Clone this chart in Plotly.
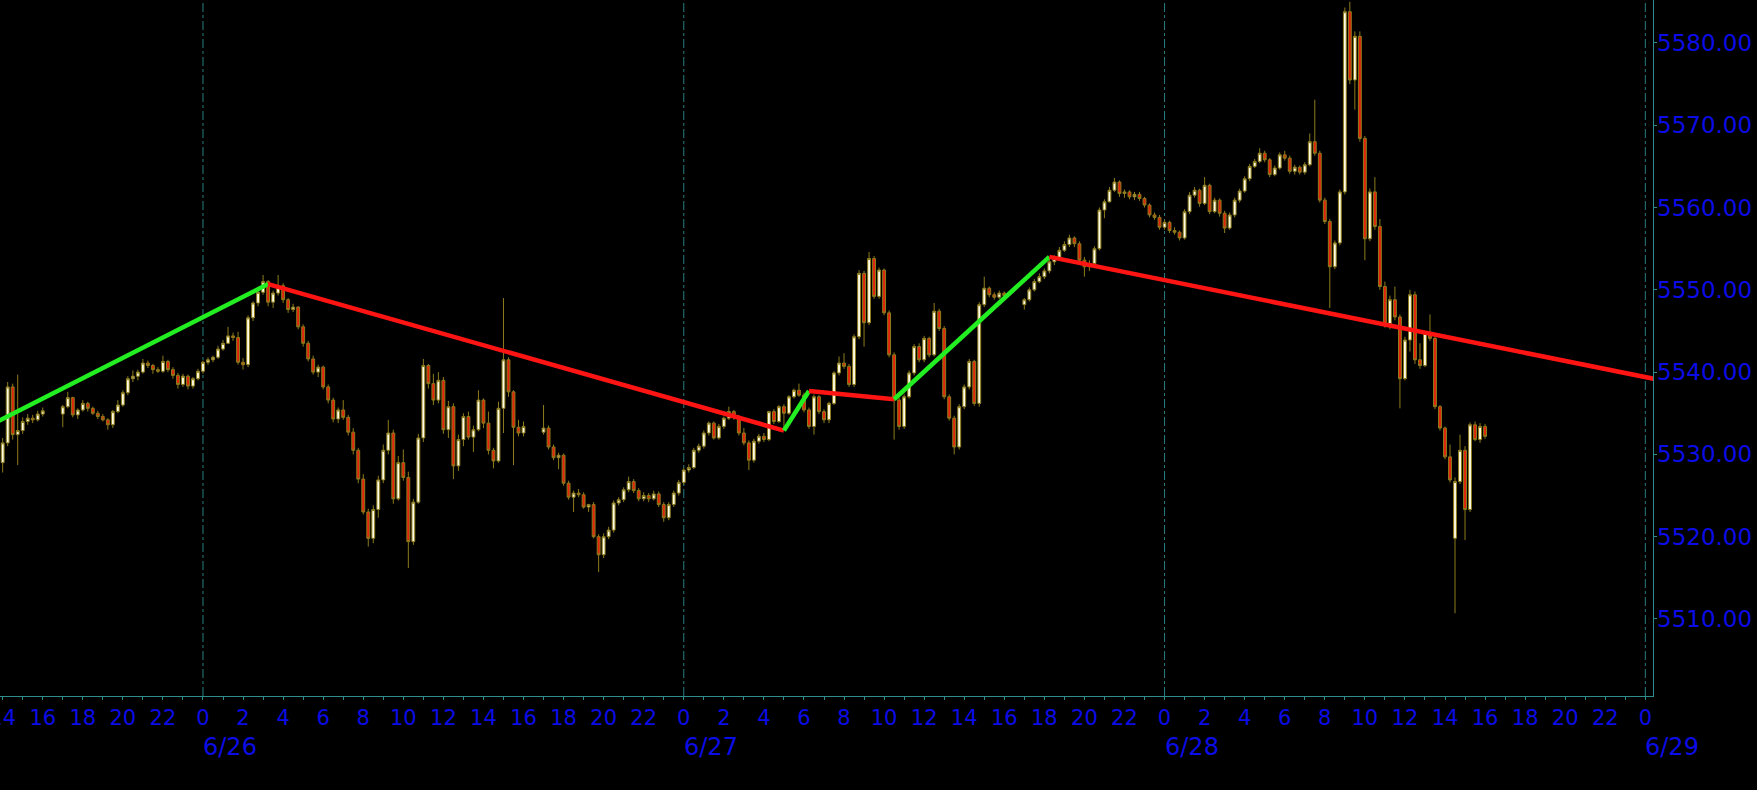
import pandas as pd
import plotly.graph_objects as go

# ---------------- data ----------------
session_start = ["2024-06-25 14:00", "2024-06-25 17:00", "2024-06-26 17:00", "2024-06-27 17:00"]
session_bars = [9, 93, 93, 93]

bar_open = [
    # 6/25 14:00-16:00
    5529.0, 5531.4, 5538.2, 5532.4, 5532.9, 5534.0, 5534.4, 5534.2, 5534.9,
    # 6/25 17:00 - 6/26 16:00
    5534.9, 5535.8, 5536.9, 5534.8,
    5535.4, 5536.2, 5535.6, 5535.0,
    5534.6, 5534.2, 5533.6, 5535.2,
    5536.0, 5537.5, 5539.2, 5539.5,
    5540.0, 5541.1, 5540.8, 5540.3,
    5540.1, 5541.3, 5540.3, 5539.6,
    5538.5, 5539.5, 5538.3, 5539.2,
    5540.1, 5541.2, 5541.5, 5541.8,
    5542.8, 5543.5, 5544.4, 5544.2,
    5541.2, 5540.9, 5546.6, 5548.4,
    5549.7, 5551.0, 5548.5, 5549.6,
    5550.5, 5548.8, 5547.6, 5547.9,
    5545.5, 5543.5, 5541.6, 5540.0,
    5540.6, 5538.2, 5536.6, 5534.3,
    5535.4, 5534.5, 5532.7, 5530.5,
    5527.0, 5523.0, 5519.8, 5523.3,
    5526.9, 5530.5, 5532.6, 5524.6,
    5529.0, 5527.2, 5519.4, 5524.2,
    5532.0, 5540.8, 5538.6, 5536.6,
    5539.0, 5533.0, 5535.8, 5528.6,
    5531.8, 5534.6, 5532.1, 5533.0,
    5536.6, 5533.8, 5530.5, 5529.2,
    5535.6, 5541.5, 5537.6, 5533.3,
    5532.6,
    # 6/26 17:00 - 6/27 16:00
    5532.7, 5533.2, 5530.9, 5529.6,
    5529.9, 5526.5, 5524.8, 5525.3,
    5525.1, 5523.6, 5523.9, 5520.0,
    5517.8, 5520.0, 5520.8, 5524.1,
    5524.5, 5525.7, 5526.7, 5525.6,
    5524.6, 5525.0, 5524.6, 5525.2,
    5523.9, 5522.3, 5523.9, 5525.3,
    5526.6, 5528.1, 5528.4, 5530.5,
    5531.0, 5532.6, 5533.8, 5532.0,
    5533.4, 5534.4, 5535.2, 5534.5,
    5532.6, 5531.4, 5529.3, 5531.6,
    5532.2, 5531.8, 5535.2, 5534.0,
    5535.8, 5535.0, 5537.0, 5537.8,
    5537.2, 5535.4, 5533.4, 5537.0,
    5535.2, 5534.2, 5536.2, 5539.9,
    5541.1, 5540.7, 5538.5, 5544.3,
    5552.0, 5546.0, 5553.8, 5549.2,
    5552.4, 5547.2, 5542.1, 5536.6,
    5533.4, 5537.0, 5539.9, 5543.1,
    5541.5, 5544.1, 5542.1, 5547.4,
    5545.3, 5537.0, 5534.4, 5530.9,
    5535.8, 5538.2, 5541.3, 5536.2,
    5548.2, 5550.2, 5549.4, 5549.1,
    5549.6,
    # 6/27 17:00 - 6/28 16:00
    5548.2, 5548.8, 5550.0, 5551.0,
    5551.6, 5552.3, 5553.4, 5553.8,
    5554.8, 5555.5, 5556.3, 5555.6,
    5553.6, 5552.8, 5553.2, 5555.0,
    5559.7, 5560.7, 5562.1, 5563.1,
    5561.7, 5561.9, 5561.3, 5561.6,
    5561.1, 5560.3, 5559.1, 5558.8,
    5557.6, 5558.2, 5557.2, 5557.0,
    5556.3, 5559.5, 5561.5, 5562.1,
    5560.5, 5562.7, 5559.5, 5560.9,
    5559.3, 5557.5, 5559.1, 5560.9,
    5562.0, 5563.5, 5565.0, 5565.6,
    5566.6, 5565.8, 5564.0, 5564.8,
    5566.4, 5566.0, 5564.4, 5564.9,
    5564.3, 5565.2, 5568.0, 5566.6,
    5560.9, 5558.3, 5552.8, 5555.7,
    5561.9, 5583.8, 5575.5, 5580.8,
    5568.4, 5556.2, 5561.9, 5557.7,
    5550.4, 5545.9, 5548.8, 5546.7,
    5539.2, 5543.9, 5549.4, 5541.5,
    5540.8, 5544.7, 5544.1, 5535.8,
    5533.2, 5529.7, 5519.8, 5526.7,
    5530.5, 5523.3, 5533.6, 5531.8,
    5533.4,
]

bar_high = [
    5532.0, 5538.8, 5538.6, 5539.7, 5534.5, 5534.9, 5534.8, 5535.3, 5535.7,
    5536.0, 5537.6, 5537.0, 5535.6,
    5536.6, 5536.4, 5535.8, 5535.3,
    5534.9, 5534.4, 5535.4, 5536.6,
    5537.8, 5539.5, 5540.2, 5540.3,
    5541.6, 5541.4, 5541.0, 5540.6,
    5542.0, 5541.5, 5540.6, 5539.9,
    5539.8, 5539.7, 5539.4, 5540.4,
    5541.4, 5541.8, 5542.0, 5543.2,
    5543.9, 5545.5, 5544.8, 5544.9,
    5541.7, 5546.9, 5548.6, 5550.0,
    5551.8, 5551.2, 5549.9, 5551.8,
    5550.8, 5549.0, 5548.3, 5548.0,
    5545.8, 5543.8, 5542.0, 5540.9,
    5540.8, 5538.5, 5536.9, 5535.7,
    5536.6, 5534.8, 5533.2, 5530.8,
    5527.6, 5523.4, 5523.8, 5527.4,
    5531.2, 5534.2, 5533.0, 5529.8,
    5530.6, 5527.9, 5524.6, 5532.5,
    5541.6, 5541.0, 5539.8, 5540.0,
    5539.4, 5536.5, 5536.2, 5532.4,
    5535.0, 5535.2, 5533.5, 5537.8,
    5536.8, 5535.2, 5530.8, 5536.4,
    5549.0, 5541.8, 5537.8, 5534.2,
    5534.0,
    5536.0, 5533.5, 5531.2, 5530.2,
    5530.1, 5526.8, 5525.6, 5525.8,
    5525.4, 5524.0, 5524.2, 5520.3,
    5520.4, 5521.2, 5524.4, 5524.8,
    5526.0, 5527.3, 5527.0, 5525.9,
    5525.4, 5525.3, 5525.6, 5525.5,
    5524.2, 5524.2, 5525.6, 5526.9,
    5528.4, 5528.8, 5530.8, 5531.3,
    5532.9, 5534.0, 5534.0, 5533.7,
    5534.6, 5535.8, 5535.4, 5534.8,
    5533.2, 5531.7, 5531.9, 5532.5,
    5532.6, 5535.3, 5535.5, 5536.0,
    5536.1, 5537.2, 5538.0, 5538.6,
    5537.5, 5535.7, 5537.3, 5537.2,
    5535.5, 5536.4, 5540.1, 5541.9,
    5542.3, 5541.0, 5544.6, 5552.4,
    5552.3, 5554.6, 5554.1, 5552.7,
    5552.6, 5547.5, 5542.4, 5536.9,
    5537.3, 5540.2, 5543.4, 5543.5,
    5544.4, 5544.3, 5548.4, 5547.7,
    5545.6, 5537.3, 5534.7, 5536.1,
    5538.5, 5541.6, 5541.5, 5548.5,
    5551.6, 5550.4, 5549.7, 5549.9,
    5549.8,
    5549.0, 5550.3, 5551.3, 5552.0,
    5552.6, 5553.8, 5554.2, 5555.2,
    5555.9, 5556.7, 5556.5, 5555.9,
    5554.0, 5553.6, 5555.3, 5560.0,
    5561.0, 5562.5, 5563.6, 5563.3,
    5562.2, 5562.1, 5561.9, 5561.9,
    5561.3, 5560.5, 5559.4, 5559.1,
    5558.5, 5558.4, 5557.6, 5557.2,
    5559.8, 5561.9, 5562.5, 5562.3,
    5563.7, 5562.9, 5561.2, 5561.1,
    5559.6, 5559.4, 5561.2, 5562.3,
    5563.8, 5565.3, 5565.9, 5567.2,
    5566.9, 5566.0, 5565.1, 5566.7,
    5566.9, 5566.3, 5565.2, 5565.1,
    5565.5, 5569.0, 5573.1, 5566.9,
    5561.2, 5558.6, 5556.0, 5562.2,
    5584.3, 5585.0, 5581.4, 5581.4,
    5568.7, 5562.3, 5563.7, 5558.6,
    5551.0, 5549.3, 5550.4, 5547.0,
    5544.3, 5550.0, 5549.8, 5543.5,
    5545.0, 5547.0, 5544.4, 5536.0,
    5533.4, 5531.2, 5527.2, 5532.4,
    5531.0, 5533.9, 5534.0, 5533.8,
    5533.7,
]

bar_low = [
    5527.8, 5531.0, 5531.8, 5528.7, 5532.5, 5533.6, 5533.8, 5534.0, 5534.6,
    5533.3, 5535.6, 5534.5, 5534.3,
    5535.2, 5535.2, 5534.8, 5534.3,
    5534.0, 5533.0, 5533.2, 5535.0,
    5535.8, 5537.2, 5538.8, 5539.0,
    5539.8, 5540.5, 5539.8, 5539.9,
    5539.9, 5540.0, 5539.2, 5538.0,
    5538.2, 5537.9, 5538.0, 5539.0,
    5539.8, 5540.9, 5541.2, 5541.6,
    5542.6, 5543.4, 5543.8, 5540.9,
    5540.3, 5540.6, 5546.2, 5548.0,
    5549.4, 5548.0, 5547.8, 5549.3,
    5548.4, 5547.2, 5547.3, 5545.2,
    5543.1, 5541.3, 5539.7, 5539.4,
    5537.9, 5536.2, 5533.9, 5533.8,
    5534.2, 5532.3, 5530.0, 5526.5,
    5522.7, 5518.8, 5519.2, 5522.3,
    5526.5, 5530.0, 5524.0, 5524.4,
    5526.8, 5516.2, 5519.0, 5524.0,
    5531.5, 5538.0, 5536.0, 5536.2,
    5532.5, 5532.0, 5527.0, 5528.0,
    5531.0, 5531.8, 5530.3, 5532.8,
    5533.2, 5530.0, 5528.3, 5529.0,
    5532.6, 5537.0, 5528.7, 5532.2,
    5532.2,
    5532.4, 5530.6, 5529.3, 5528.2,
    5526.2, 5524.5, 5523.0, 5524.8,
    5523.4, 5523.0, 5519.8, 5515.7,
    5517.4, 5519.7, 5520.5, 5523.8,
    5524.2, 5525.4, 5525.3, 5524.3,
    5524.3, 5524.2, 5524.4, 5523.6,
    5521.8, 5522.0, 5523.6, 5525.0,
    5526.3, 5527.8, 5528.2, 5530.2,
    5530.7, 5532.3, 5531.8, 5531.8,
    5533.1, 5534.2, 5534.2, 5532.3,
    5531.1, 5528.1, 5529.0, 5531.3,
    5531.5, 5531.6, 5533.7, 5533.8,
    5532.9, 5534.8, 5536.8, 5537.0,
    5535.1, 5533.1, 5532.4, 5534.9,
    5533.8, 5533.8, 5536.0, 5539.6,
    5540.4, 5538.2, 5538.2, 5544.0,
    5543.1, 5545.7, 5548.9, 5548.9,
    5546.9, 5541.8, 5531.8, 5533.0,
    5533.1, 5536.8, 5539.6, 5541.2,
    5541.2, 5541.8, 5541.9, 5545.0,
    5536.7, 5534.1, 5530.0, 5530.6,
    5535.5, 5537.9, 5535.9, 5535.8,
    5547.9, 5549.1, 5548.8, 5548.9,
    5549.0,
    5547.6, 5548.6, 5549.8, 5550.8,
    5551.3, 5552.0, 5553.0, 5553.6,
    5554.6, 5555.2, 5555.2, 5553.2,
    5551.6, 5552.3, 5552.8, 5554.8,
    5558.7, 5560.6, 5561.9, 5561.3,
    5561.2, 5561.0, 5560.9, 5560.8,
    5560.0, 5558.8, 5558.5, 5557.3,
    5557.3, 5556.9, 5556.7, 5556.0,
    5556.1, 5559.2, 5561.2, 5560.1,
    5560.3, 5559.2, 5559.3, 5558.9,
    5556.9, 5557.3, 5558.8, 5560.6,
    5561.8, 5563.2, 5564.8, 5565.4,
    5565.5, 5563.7, 5563.8, 5564.6,
    5565.7, 5564.1, 5564.0, 5564.0,
    5564.0, 5565.0, 5566.3, 5560.6,
    5558.0, 5547.8, 5552.5, 5555.4,
    5561.6, 5575.0, 5571.9, 5568.0,
    5553.6, 5555.9, 5557.3, 5550.0,
    5545.4, 5545.2, 5546.3, 5535.6,
    5539.0, 5542.5, 5541.0, 5540.4,
    5540.6, 5543.8, 5535.5, 5532.9,
    5529.4, 5526.6, 5510.7, 5526.4,
    5519.6, 5523.0, 5531.6, 5531.4,
    5531.9,
]

bar_close = [
    5531.4, 5538.2, 5532.4, 5532.9, 5534.0, 5534.4, 5534.2, 5534.9, 5535.3,
    5535.8, 5536.9, 5534.8, 5535.4,
    5536.2, 5535.6, 5535.0, 5534.6,
    5534.2, 5533.6, 5535.2, 5536.0,
    5537.5, 5539.2, 5539.5, 5540.0,
    5541.1, 5540.8, 5540.3, 5540.1,
    5541.3, 5540.3, 5539.6, 5538.5,
    5539.5, 5538.3, 5539.2, 5540.1,
    5541.2, 5541.5, 5541.8, 5542.8,
    5543.5, 5544.4, 5544.2, 5541.2,
    5540.9, 5546.6, 5548.4, 5549.7,
    5551.0, 5548.5, 5549.6, 5550.5,
    5548.8, 5547.6, 5547.9, 5545.5,
    5543.5, 5541.6, 5540.0, 5540.6,
    5538.2, 5536.6, 5534.3, 5535.4,
    5534.5, 5532.7, 5530.5, 5527.0,
    5523.0, 5519.8, 5523.3, 5526.9,
    5530.5, 5532.6, 5524.6, 5529.0,
    5527.2, 5519.4, 5524.2, 5532.0,
    5540.8, 5538.6, 5536.6, 5539.0,
    5533.0, 5535.8, 5528.6, 5531.8,
    5534.6, 5532.1, 5533.0, 5536.6,
    5533.8, 5530.5, 5529.2, 5535.6,
    5541.5, 5537.6, 5533.3, 5532.6,
    5533.4,
    5533.2, 5530.9, 5529.6, 5529.9,
    5526.5, 5524.8, 5525.3, 5525.1,
    5523.6, 5523.9, 5520.0, 5517.8,
    5520.0, 5520.8, 5524.1, 5524.5,
    5525.7, 5526.7, 5525.6, 5524.6,
    5525.0, 5524.6, 5525.2, 5523.9,
    5522.3, 5523.9, 5525.3, 5526.6,
    5528.1, 5528.4, 5530.5, 5531.0,
    5532.6, 5533.8, 5532.0, 5533.4,
    5534.4, 5535.2, 5534.5, 5532.6,
    5531.4, 5529.3, 5531.6, 5532.2,
    5531.8, 5535.2, 5534.0, 5535.8,
    5535.0, 5537.0, 5537.8, 5537.2,
    5535.4, 5533.4, 5537.0, 5535.2,
    5534.2, 5536.2, 5539.9, 5541.1,
    5540.7, 5538.5, 5544.3, 5552.0,
    5546.0, 5553.8, 5549.2, 5552.4,
    5547.2, 5542.1, 5536.6, 5533.4,
    5537.0, 5539.9, 5543.1, 5541.5,
    5544.1, 5542.1, 5547.4, 5545.3,
    5537.0, 5534.4, 5530.9, 5535.8,
    5538.2, 5541.3, 5536.2, 5548.2,
    5550.2, 5549.4, 5549.1, 5549.6,
    5549.3,
    5548.8, 5550.0, 5551.0, 5551.6,
    5552.3, 5553.4, 5553.8, 5554.8,
    5555.5, 5556.3, 5555.6, 5553.6,
    5552.8, 5553.2, 5555.0, 5559.7,
    5560.7, 5562.1, 5563.1, 5561.7,
    5561.9, 5561.3, 5561.6, 5561.1,
    5560.3, 5559.1, 5558.8, 5557.6,
    5558.2, 5557.2, 5557.0, 5556.3,
    5559.5, 5561.5, 5562.1, 5560.5,
    5562.7, 5559.5, 5560.9, 5559.3,
    5557.5, 5559.1, 5560.9, 5562.0,
    5563.5, 5565.0, 5565.6, 5566.6,
    5565.8, 5564.0, 5564.8, 5566.4,
    5566.0, 5564.4, 5564.9, 5564.3,
    5565.2, 5568.0, 5566.6, 5560.9,
    5558.3, 5552.8, 5555.7, 5561.9,
    5583.8, 5575.5, 5580.8, 5568.4,
    5556.2, 5561.9, 5557.7, 5550.4,
    5545.9, 5548.8, 5546.7, 5539.2,
    5543.9, 5549.4, 5541.5, 5540.8,
    5544.7, 5544.1, 5535.8, 5533.2,
    5529.7, 5526.9, 5526.7, 5530.5,
    5523.3, 5533.6, 5531.8, 5533.4,
    5532.2,
]

# zigzag swing points
zz_time = ["2024-06-25 13:45", "2024-06-26 03:15", "2024-06-27 05:00", "2024-06-27 06:15",
           "2024-06-27 10:30", "2024-06-27 18:15", "2024-06-29 01:00"]
zz_value = [5534.0, 5550.7, 5532.9, 5537.7, 5536.7, 5554.0, 5538.9]

day_marks = ["2024-06-26", "2024-06-27", "2024-06-28", "2024-06-29"]
day_labels = ["6/26", "6/27", "6/28", "6/29"]
price_ticks = [5510, 5520, 5530, 5540, 5550, 5560, 5570, 5580]

# ---------------- styles ----------------
BG = "#000000"
AXIS = "#2f8c8c"
GRID = "#2a7f7f"
TXT = "#0c0ce6"
UP_FILL = "#fffbe4"
DN_FILL = "#e4230c"
EDGE = "#8c7c1c"
ZZ_UP = "#22ee22"
ZZ_DN = "#ff1414"
FONT = "DejaVu Sans"

times = []
for s, cnt in zip(session_start, session_bars):
    times += list(pd.date_range(s, periods=cnt, freq="15min"))
n = min(len(times), len(bar_open), len(bar_high), len(bar_low), len(bar_close))

fig = go.Figure()
fig.add_trace(go.Candlestick(
    x=times[:n], open=bar_open[:n], high=bar_high[:n], low=bar_low[:n], close=bar_close[:n],
    increasing=dict(line=dict(color=EDGE, width=1), fillcolor=UP_FILL),
    decreasing=dict(line=dict(color=EDGE, width=1), fillcolor=DN_FILL),
    whiskerwidth=0, showlegend=False, hoverinfo="skip",
))

for i in range(len(zz_time) - 1):
    col = ZZ_UP if zz_value[i + 1] > zz_value[i] else ZZ_DN
    fig.add_trace(go.Scatter(
        x=[zz_time[i], zz_time[i + 1]], y=[zz_value[i], zz_value[i + 1]],
        mode="lines", line=dict(color=col, width=4.5), showlegend=False, hoverinfo="skip",
    ))

# hour ticks (marks every hour, labels every 2 hours)
hours = pd.date_range("2024-06-25 14:00", "2024-06-29 00:00", freq="1h")
tick_text = [str(h.hour) if h.hour % 2 == 0 else "" for h in hours]

for d in day_marks:
    fig.add_shape(type="line", xref="x", yref="paper", x0=d, x1=d, y0=0, y1=1,
                  line=dict(color=GRID, width=1, dash="dashdot"), layer="below")

for d, lab in zip(day_marks, day_labels):
    fig.add_annotation(x=d, y=-0.073, xref="x", yref="paper", text=lab, showarrow=False,
                       xanchor="left", yanchor="middle", xshift=-2,
                       font=dict(family=FONT, size=24, color=TXT))

# price labels on the right
for v in price_ticks:
    fig.add_annotation(x=1, y=v, xref="paper", yref="y", text=f"{v:.2f}", showarrow=False,
                       xanchor="left", yanchor="middle", xshift=2,
                       font=dict(family=FONT, size=23, color=TXT))

W, H = 1757, 790
fig.update_layout(
    width=W, height=H,
    paper_bgcolor=BG, plot_bgcolor=BG,
    margin=dict(l=0, r=104, t=0, b=94, autoexpand=False),
    font=dict(family=FONT, color=TXT),
    boxgap=0.18,
    xaxis=dict(
        type="date", range=["2024-06-25 13:52", "2024-06-29 00:23"],
        rangeslider=dict(visible=False), automargin=False,
        tickmode="array", tickvals=list(hours), ticktext=tick_text, tickangle=0,
        ticks="outside", ticklen=3, tickcolor=AXIS, tickwidth=1,
        tickfont=dict(family=FONT, size=21, color=TXT),
        ticklabelstandoff=0, ticklabeloverflow="allow",
        showline=True, linecolor=AXIS, linewidth=1,
        showgrid=False, zeroline=False, fixedrange=True,
    ),
    yaxis=dict(
        side="right", range=[5500.64, 5585.22], automargin=False,
        tickmode="array", tickvals=price_ticks, showticklabels=False,
        ticks="outside", ticklen=3, tickcolor=AXIS, tickwidth=1,
        showline=True, linecolor=AXIS, linewidth=1,
        showgrid=False, zeroline=False, fixedrange=True,
    ),
)

fig.write_html("out.html", config={"displayModeBar": False},
               post_script="document.body.style.margin='0';document.body.style.overflow='hidden';")
